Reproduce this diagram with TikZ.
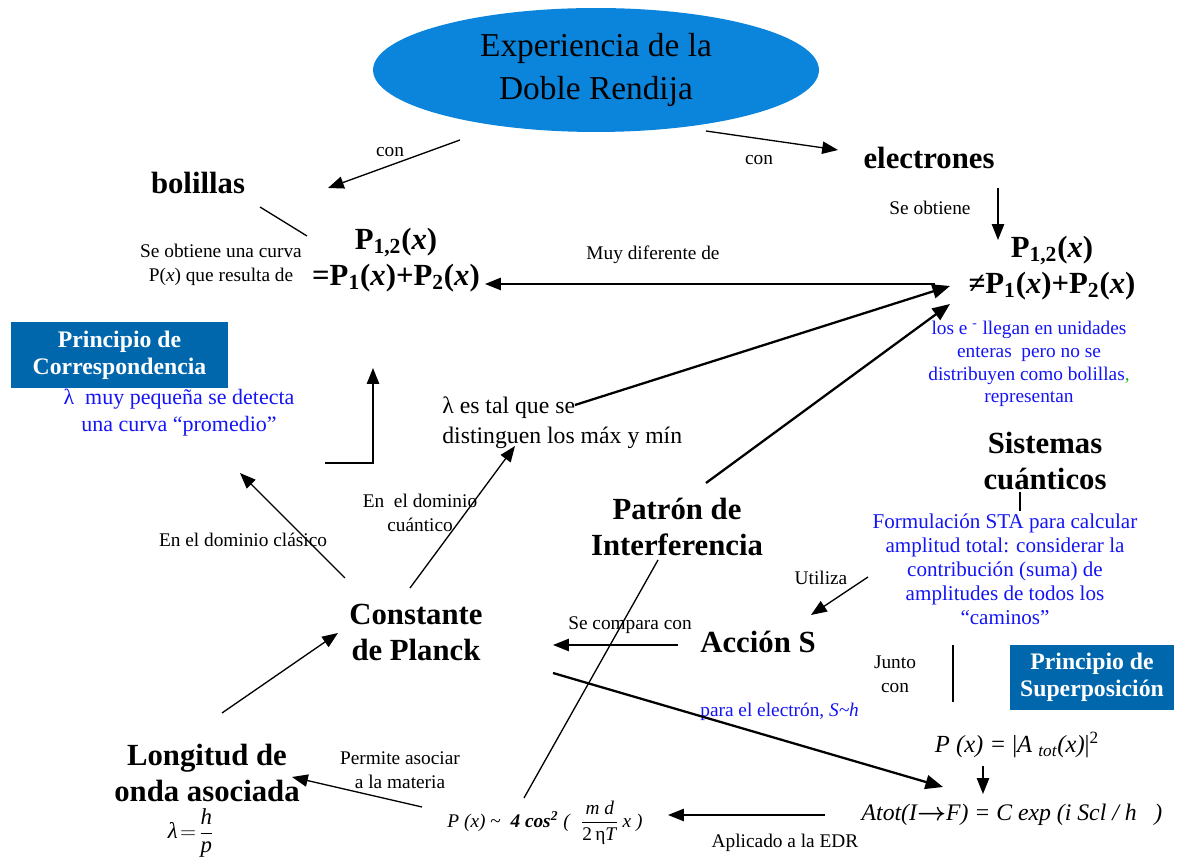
\documentclass[tikz,border=0pt]{standalone}
\usepackage{amsmath}
\usepackage{fontspec}
\setmainfont{Liberation Serif}
\usepackage{tikz}
\usetikzlibrary{arrows.meta,shapes.geometric}
\definecolor{ellblue}{HTML}{0B84DC}
\definecolor{boxblue}{HTML}{0067AC}
\definecolor{bluetxt}{HTML}{1414F5}
\definecolor{commagreen}{HTML}{22B022}
\tikzset{
  line/.style={draw=black, line width=0.75pt},
  thline/.style={draw=black, line width=1.3pt},
  arr/.style={line, -{Triangle[length=9pt,width=7pt]}},
  tharr/.style={thline, -{Triangle[length=10pt,width=8pt]}},
  concept/.style={align=center, inner sep=0pt, font=\fontsize{17.5}{20.5}\selectfont\bfseries},
  lbl/.style={align=center, inner sep=0pt, font=\fontsize{11}{13.6}\selectfont},
  note/.style={align=center, inner sep=0pt, text=bluetxt, font=\fontsize{11}{13}\selectfont},
  prinbox/.style={fill=boxblue, text=white, align=center, inner sep=0pt, font=\fontsize{13.5}{15.4}\selectfont\bfseries},
  formula/.style={inner sep=0pt, font=\fontsize{14}{16}\selectfont\itshape}
}

\begin{document}
\begin{tikzpicture}[x=0.02cm, y=-0.02cm]
  \useasboundingbox (0,0) rectangle (1188,857);

  % main concept
  \node[ellipse, fill=ellblue, minimum width=8.92cm, minimum height=2.48cm, inner sep=0pt,
        align=center, font=\fontsize{19}{24}\selectfont] (exp) at (596,70) {Experiencia de la\\Doble Rendija};

  % concepts
  \node[concept] (bol) at (198,183) {bolillas};
  \node[concept] (elec) at (929,158) {electrones};
  \node[concept] (pcl) at (396,260) {P\textsubscript{1,2}(\textit{x})\\=P\textsubscript{1}(\textit{x})+P\textsubscript{2}(\textit{x})};
  \node[concept] (pqu) at (1052,268) {P\textsubscript{1,2}(\textit{x})\\≠P\textsubscript{1}(\textit{x})+P\textsubscript{2}(\textit{x})};
  \node[concept] (sis) at (1045,461) {Sistemas\\cuánticos};
  \node[concept] (pat) at (677,527) {Patrón de\\Interferencia};
  \node[concept] (planck) at (416,632) {Constante\\de Planck};
  \node[concept] (accion) at (758,642) {Acción S};
  \node[concept] (lon) at (207,773) {Longitud de\\onda asociada};

  % boxes
  \node[prinbox, minimum width=4.34cm, minimum height=1.32cm] (corr) at (119.5,355) {Principio de\\Correspondencia};
  \node[prinbox, minimum width=3.28cm, minimum height=1.30cm] (sup) at (1092,677.5) {Principio de\\Superposición};

  % blue notes
  \node[note, font=\fontsize{12.5}{15.4}\selectfont] (prom) at (179,413) {λ~ muy pequeña se detecta\\una curva “promedio”};
  \node[note] (unid) at (1029,364) {los e \textsuperscript{-} llegan en unidades\\enteras~ pero no se\\distribuyen como bolillas{\color{commagreen},}\\representan};
  \node[note, font=\fontsize{12}{13.7}\selectfont] (sta) at (1005,569) {Formulación STA para calcular\\amplitud total: considerar la\\contribución (suma) de\\amplitudes de todos los\\“caminos”};
  \node[note, anchor=west] (sel) at (700,712) {para el electrón, \textit{S\textasciitilde h}};

  % plain texts
  \node[lbl] (curva) at (221,265) {Se obtiene una curva\\P(\textit{x}) que resulta de};
  \node[inner sep=0pt, anchor=west, align=left, font=\fontsize{13.5}{17}\selectfont] (dist) at (442,423) {λ es tal que se\\distinguen los máx y mín};

  % formulas
  \node[formula] (amp) at (1017,745) {P (x) = {\upshape|}A \textsubscript{tot}(x){\upshape|}\textsuperscript{\upshape 2}};
  \node[formula, font=\fontsize{13.5}{16}\selectfont\itshape] (atot) at (1012,815) {Atot(I$\boldsymbol{\rightarrow}$F) = C exp (i Scl / h~~ )};
  \node[inner sep=0pt, font=\fontsize{11}{13}\selectfont] (cos) at (545,823)
    {\textit{P (x)} \textasciitilde\ \ \textbf{\textit{4 cos\textsuperscript{2}}} \textit{(}~ $\dfrac{\text{\textit{m d}}}{\text{2\,η\textit{T}}}$\,\textit{x )}};
  \node[inner sep=0pt, font=\fontsize{13}{15}\selectfont] (lam) at (191,833) {$\text{\textit{λ}}\!=\!\dfrac{\text{\textit{h}}}{\text{\textit{p}}}$};

  % link labels
  \node[lbl] (l1) at (390,152) {con};
  \node[lbl] (l2) at (759,160) {con};
  \node[lbl] (l3) at (930,208) {Se obtiene};
  \node[lbl] (l4) at (653,255) {Muy diferente de};
  \node[lbl] (l5) at (243,540) {En el dominio clásico};
  \node[lbl] (l6) at (420,513) {En\ \ el dominio\\cuántico};
  \node[lbl] (l7) at (821,578) {Utiliza};
  \node[lbl] (l8) at (630,625) {Se compara con};
  \node[lbl] (l9) at (895,674) {Junto\\con};
  \node[lbl] (l10) at (400,770) {Permite asociar\\a la materia};
  \node[lbl] (l11) at (785,843) {Aplicado a la EDR};

  % connector ends
  \coordinate (c1a) at (460,140);  \coordinate (c1b) at (328,188);
  \coordinate (c2a) at (706,131);  \coordinate (c2b) at (838,150);
  \coordinate (c3a) at (260,207);  \coordinate (c3b) at (307,236);
  \coordinate (c4a) at (998,188);  \coordinate (c4b) at (998,240);
  \coordinate (c5a) at (935,284);  \coordinate (c5b) at (485,284);
  \coordinate (c6a) at (575,405);  \coordinate (c6b) at (950,286);
  \coordinate (c7a) at (706,483);  \coordinate (c7b) at (950,304);
  \coordinate (c8a) at (325,463);  \coordinate (c8m) at (373,463);  \coordinate (c8b) at (373,368);
  \coordinate (c9a) at (345,578);  \coordinate (c9b) at (240,473);
  \coordinate (c10a) at (410,588); \coordinate (c10b) at (515,446);
  \coordinate (c11a) at (222,713); \coordinate (c11b) at (338,633);
  \coordinate (c12a) at (678,645); \coordinate (c12b) at (553,645);
  \coordinate (c13a) at (868,577); \coordinate (c13b) at (811,615);
  \coordinate (c14a) at (1020,492); \coordinate (c14b) at (1020,511);
  \coordinate (c15a) at (953,645); \coordinate (c15b) at (953,702);
  \coordinate (c16a) at (983,766); \coordinate (c16b) at (983,794);
  \coordinate (c17a) at (553,673); \coordinate (c17b) at (943,787);
  \coordinate (c18a) at (825,815); \coordinate (c18b) at (668,815);
  \coordinate (c19a) at (422,807); \coordinate (c19b) at (292,777);
  \coordinate (c20a) at (658,560); \coordinate (c20b) at (524,798);

  % connectors
  \draw[arr] (c1a) -- (c1b);
  \draw[arr] (c2a) -- (c2b);
  \draw[line] (c3a) -- (c3b);
  \draw[arr] (c4a) -- (c4b);
  \draw[arr] (c5a) -- (c5b);
  \draw[tharr] (c6a) -- (c6b);
  \draw[tharr] (c7a) -- (c7b);
  \draw[arr] (c8a) -- (c8m) -- (c8b);
  \draw[arr] (c9a) -- (c9b);
  \draw[arr] (c10a) -- (c10b);
  \draw[arr] (c11a) -- (c11b);
  \draw[arr] (c12a) -- (c12b);
  \draw[arr] (c13a) -- (c13b);
  \draw[line] (c14a) -- (c14b);
  \draw[thline] (c15a) -- (c15b);
  \draw[arr] (c16a) -- (c16b);
  \draw[tharr] (c17a) -- (c17b);
  \draw[arr] (c18a) -- (c18b);
  \draw[arr] (c19a) -- (c19b);
  \draw[line] (c20a) -- (c20b);
\end{tikzpicture}
\end{document}
